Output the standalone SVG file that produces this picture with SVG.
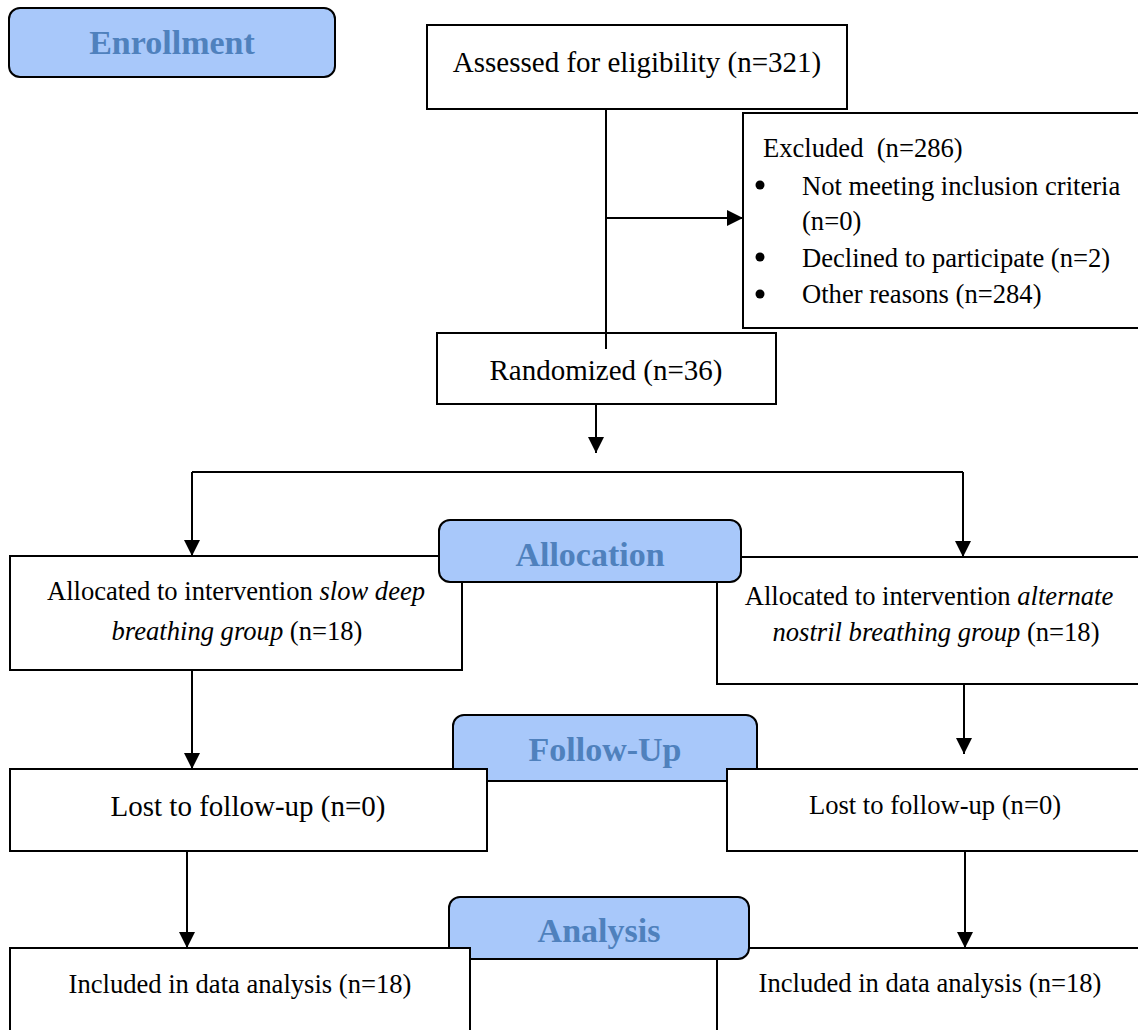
<svg xmlns="http://www.w3.org/2000/svg" width="1138" height="1030" viewBox="0 0 1138 1030">
<style>
.box{fill:#ffffff;stroke:#000000;stroke-width:2}
.hdr{fill:#a8c8fa;stroke:#000000;stroke-width:2}
.ht{font-family:"Liberation Serif",serif;font-weight:bold;font-size:34px;fill:#4f81bd;text-anchor:middle}
.t{font-family:"Liberation Serif",serif;font-size:26.6px;fill:#000000}
.tl{font-family:"Liberation Serif",serif;font-size:29px;fill:#000000}
.m{text-anchor:middle}
.i{font-style:italic}
.c{stroke:#000000;stroke-width:2;fill:none}
.a{marker-end:url(#arr)}
</style>
<defs>
<marker id="arr" viewBox="0 0 16 16" refX="16" refY="8" markerWidth="16" markerHeight="16" markerUnits="userSpaceOnUse" orient="auto">
<path d="M0,0 L16,8 L0,16 Z" fill="#000000"/>
</marker>
</defs>
<rect width="1138" height="1030" fill="#ffffff"/>

<g id="enrollment">
<rect class="hdr" x="9" y="8" width="326" height="69" rx="11"/>
<text class="ht" x="172" y="54">Enrollment</text>
</g>

<g id="assessed">
<rect class="box" x="427" y="25" width="420" height="84"/>
<text class="tl m" x="637" y="72">Assessed for eligibility (n=321)</text>
</g>

<g id="excluded">
<rect class="box" x="743" y="113" width="410" height="215"/>
<text class="t" x="763" y="157" xml:space="preserve">Excluded  (n=286)</text>
<circle cx="760" cy="185" r="4.5" fill="#000000"/>
<text class="t" x="802" y="195">Not meeting inclusion criteria</text>
<text class="t" x="802" y="230">(n=0)</text>
<circle cx="760" cy="257" r="4.5" fill="#000000"/>
<text class="t" x="802" y="267">Declined to participate (n=2)</text>
<circle cx="760" cy="294" r="4.5" fill="#000000"/>
<text class="t" x="802" y="303">Other reasons (n=284)</text>
</g>

<g id="randomized">
<rect class="box" x="437" y="333" width="339" height="71"/>
<text class="tl m" x="606" y="380">Randomized (n=36)</text>
</g>

<g id="alloc-left">
<rect class="box" x="10" y="556" width="452" height="114"/>
<text class="t m" x="236" y="600">Allocated to intervention <tspan class="i">slow deep</tspan></text>
<text class="t m" x="237" y="640"><tspan class="i">breathing group</tspan> (n=18)</text>
</g>

<g id="alloc-right">
<rect class="box" x="717" y="557" width="436" height="127"/>
<text class="t m" x="929" y="605">Allocated to intervention <tspan class="i">alternate</tspan></text>
<text class="t m" x="936" y="641"><tspan class="i">nostril breathing group</tspan> (n=18)</text>
</g>

<g id="allocation">
<rect class="hdr" x="439" y="520" width="302" height="62" rx="11"/>
<text class="ht" x="590" y="566">Allocation</text>
</g>

<g id="followup">
<rect class="hdr" x="453" y="715" width="304" height="66" rx="11"/>
<text class="ht" x="605" y="761">Follow-Up</text>
</g>

<g id="lost-left">
<rect class="box" x="10" y="769" width="477" height="82"/>
<text class="tl m" x="248" y="816">Lost to follow-up (n=0)</text>
</g>

<g id="lost-right">
<rect class="box" x="727" y="769" width="426" height="82"/>
<text class="t m" x="935" y="814">Lost to follow-up (n=0)</text>
</g>

<g id="incl-right">
<rect class="box" x="717" y="948" width="436" height="100"/>
<text class="t m" x="930" y="992">Included in data analysis (n=18)</text>
</g>

<g id="analysis">
<rect class="hdr" x="449" y="897" width="300" height="62" rx="11"/>
<text class="ht" x="599" y="942">Analysis</text>
</g>

<g id="incl-left">
<rect class="box" x="10" y="948" width="460" height="100"/>
<text class="t m" x="240" y="993">Included in data analysis (n=18)</text>
</g>

<g id="connectors">
<path class="c" d="M606,109 L606,349"/>
<path class="c a" d="M606,218 L743,218"/>
<path class="c a" d="M596,404 L596,453"/>
<path class="c" d="M192,472 L963,472"/>
<path class="c a" d="M192,472 L192,556"/>
<path class="c a" d="M963,472 L963,557"/>
<path class="c a" d="M192,670 L192,769"/>
<path class="c a" d="M964,684 L964,754"/>
<path class="c a" d="M187,851 L187,948"/>
<path class="c a" d="M965,851 L965,948"/>
</g>
</svg>
